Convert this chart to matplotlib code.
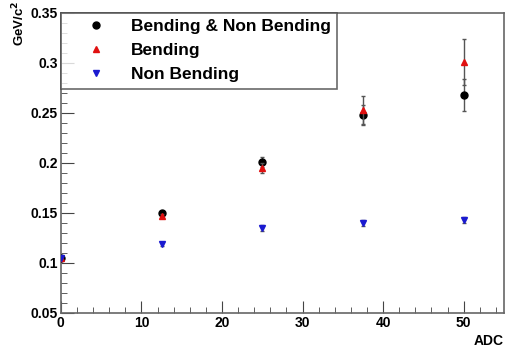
import numpy as np
import matplotlib
matplotlib.use("Agg")
import matplotlib.pyplot as plt
from matplotlib.ticker import MultipleLocator
from matplotlib.lines import Line2D

plt.rcParams['font.family'] = ['Liberation Sans', 'DejaVu Sans']
plt.rcParams['font.weight'] = 'bold'

# data
adc = [0, 12.5, 25, 37.5, 50]
both = [0.105, 0.150, 0.201, 0.248, 0.268]
both_err = [0.002, 0.002, 0.005, 0.010, 0.016]
bend = [0.105, 0.147, 0.195, 0.253, 0.301]
bend_err = [0.002, 0.002, 0.005, 0.014, 0.023]
nonbend = [0.105, 0.119, 0.135, 0.140, 0.143]
nonbend_err = [0.002, 0.002, 0.003, 0.003, 0.003]

labels = ['Bending & Non Bending', 'Bending', 'Non Bending']
colors = ['black', '#e01010', '#1a1ad0']
markers = ['o', '^', 'v']
sizes = [5, 4.5, 4]

fig = plt.figure(figsize=(5.07, 3.47), dpi=100)
ax = fig.add_axes([0.120, 0.098, 0.874, 0.865])

series = [(both, both_err), (bend, bend_err), (nonbend, nonbend_err)]
for (vals, errs), c, m, s, z in zip(series, colors, markers, sizes, [3, 4, 4]):
    ax.errorbar(adc, vals, yerr=errs, fmt=m, color=c, ms=s,
                ecolor='#555555', elinewidth=1, capsize=1.5, zorder=z)

ax.set_xlim(0, 55)
ax.set_ylim(0.05, 0.35)
ax.xaxis.set_major_locator(MultipleLocator(10))
ax.xaxis.set_minor_locator(MultipleLocator(2))
ax.yaxis.set_minor_locator(MultipleLocator(0.01))
ax.set_yticks([0.05, 0.1, 0.15, 0.2, 0.25, 0.3, 0.35])
ax.set_yticklabels(['0.05', '0.1', '0.15', '0.2', '0.25', '0.3', '0.35'])
ax.tick_params(which='both', direction='in', top=False, right=False,
               color='#444444', labelsize=10, pad=2)
ax.tick_params(which='major', length=9)
ax.tick_params(which='minor', length=4.5)
for s in ax.spines.values():
    s.set_color('#666666')
    s.set_linewidth(1.2)

ax.set_xlabel('ADC', fontsize=10, fontweight='bold')
ax.xaxis.set_label_coords(1.0, -0.07)
ax.xaxis.label.set_ha('right')
ax.xaxis.label.set_va('top')
ax.set_ylabel('GeV/c$^2$', fontsize=9.5, fontweight='bold')
ax.yaxis.set_label_coords(-0.075, 1.04)
ax.yaxis.label.set_va('bottom')
ax.yaxis.label.set_ha('right')

handles = [Line2D([], [], ls='none', marker=m, color=c, ms=s)
           for m, c, s in zip(markers, colors, sizes)]
leg = ax.legend(handles, labels, loc='upper left', bbox_to_anchor=(0.0, 1.0),
                fontsize=12.5, frameon=True, fancybox=False, borderaxespad=0,
                handletextpad=0.4, borderpad=0.35, labelspacing=0.52,
                handlelength=3.3)
leg.get_frame().set_edgecolor('#444444')
leg.get_frame().set_linewidth(1.2)
for t in leg.get_texts():
    t.set_fontweight('bold')

fig.savefig('out.png', dpi=100)
